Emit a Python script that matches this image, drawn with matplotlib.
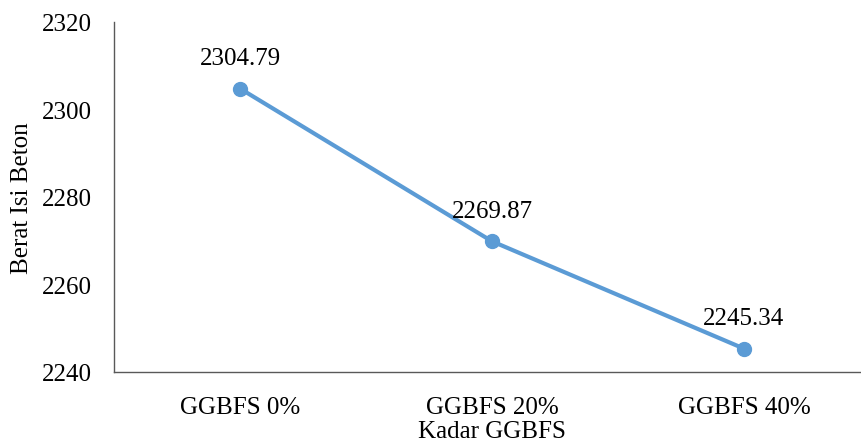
import matplotlib
matplotlib.use("Agg")
import matplotlib.pyplot as plt

categories = ["GGBFS 0%", "GGBFS 20%", "GGBFS 40%"]
berat_isi = [2304.79, 2269.87, 2245.34]
y_ticks = [2240, 2260, 2280, 2300, 2320]

plt.rcParams["font.family"] = ["Liberation Serif", "DejaVu Serif"]

W, H, DPI = 861, 439, 100
fig = plt.figure(figsize=(W / DPI, H / DPI), dpi=DPI)

left, right, top, bottom = 114, 870, 23, 373
ax = fig.add_axes([left / W, 1 - bottom / H, (right - left) / W, (bottom - top) / H])

FS = 18

x = list(range(len(categories)))
ax.plot(x, berat_isi, color="#5B9BD5", linewidth=3.0, marker="o",
        markersize=10, solid_capstyle="round", zorder=3)

for xi, v in zip(x, berat_isi):
    ax.annotate(f"{v:.2f}", (xi, v), xytext=(0, 22), textcoords="offset points",
                ha="center", va="center", fontsize=FS, color="black")

ax.set_xlim(-0.5, len(categories) - 0.5)
ax.set_ylim(2240, 2320)
ax.set_yticks(y_ticks)
ax.set_xticks(x)
ax.set_xticklabels(categories)
ax.tick_params(axis="both", length=0, labelsize=FS, colors="black")
ax.tick_params(axis="y", pad=16)
ax.tick_params(axis="x", pad=17)

for s in ["top", "right"]:
    ax.spines[s].set_visible(False)
for s in ["left", "bottom"]:
    ax.spines[s].set_color("#595959")
    ax.spines[s].set_linewidth(1.0)

ax.set_ylabel("Berat Isi Beton", fontsize=FS, labelpad=6)
ax.set_xlabel("Kadar GGBFS", fontsize=FS, labelpad=2)

fig.savefig("out.png", dpi=DPI)
